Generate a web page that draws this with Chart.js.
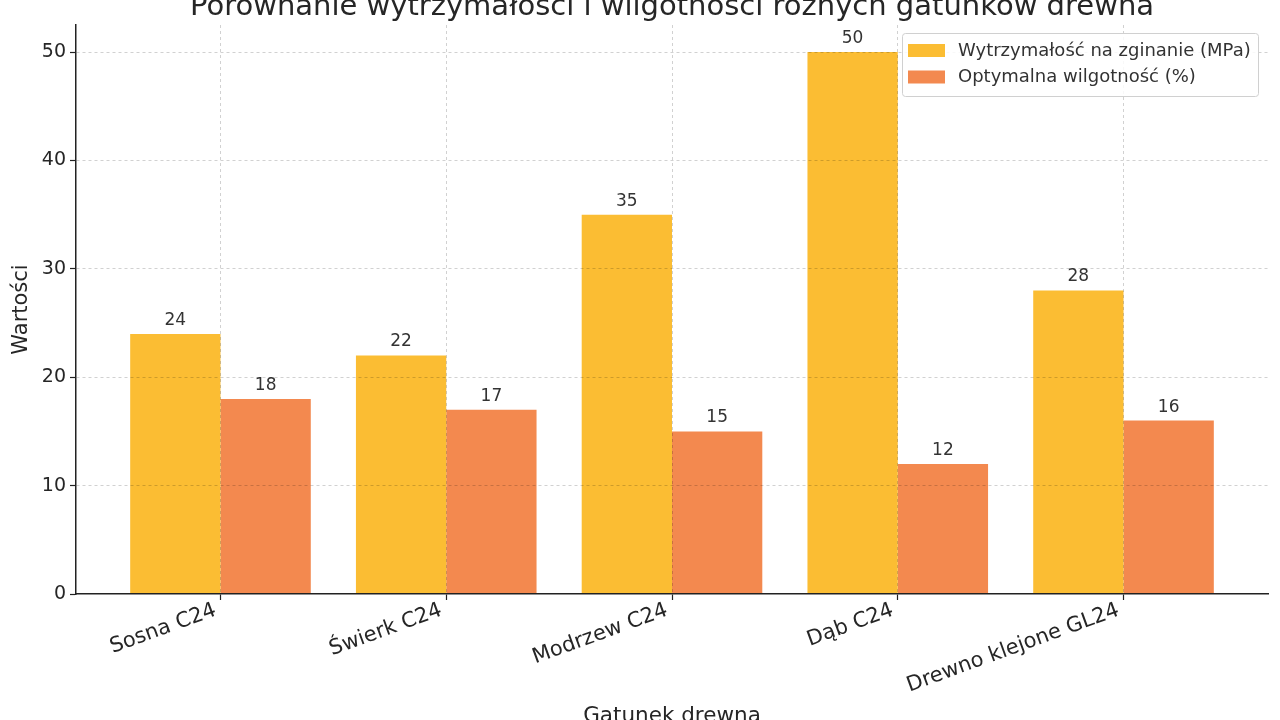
<!DOCTYPE html>
<html>
<head>
<meta charset="utf-8">
<script src="https://cdn.jsdelivr.net/npm/chart.js@4"></script>
<style>
  html, body { margin: 0; padding: 0; background: #fff; }
  canvas { display: block; }
</style>
</head>
<body>
<canvas id="woodChart" width="1280" height="720"></canvas>
<script>
const categories = ['Sosna C24', 'Świerk C24', 'Modrzew C24', 'Dąb C24', 'Drewno klejone GL24'];
const strength = [24, 22, 35, 50, 28];
const moisture = [18, 17, 15, 12, 16];
const seriesNames = ['Wytrzymałość na zginanie (MPa)', 'Optymalna wilgotność (%)'];
const yTicks = [0, 10, 20, 30, 40, 50];

const FONT = "'DejaVu Sans', sans-serif";
const TEXT = '#262626';

// value labels above each bar
const barLabels = {
  id: 'barLabels',
  afterDatasetsDraw(chart) {
    const ctx = chart.ctx;
    ctx.save();
    ctx.font = '17px ' + FONT;
    ctx.fillStyle = '#333';
    ctx.textAlign = 'center';
    ctx.textBaseline = 'bottom';
    chart.data.datasets.forEach((ds, i) => {
      chart.getDatasetMeta(i).data.forEach((bar, j) => {
        ctx.fillText(ds.data[j].y, bar.x, bar.y - 5);
      });
    });
    ctx.restore();
  }
};

// title and x title sit partly outside the canvas, so draw them by hand
const outerText = {
  id: 'outerText',
  afterDraw(chart) {
    const ctx = chart.ctx;
    const a = chart.chartArea;
    ctx.save();
    ctx.fillStyle = TEXT;
    ctx.textAlign = 'center';
    ctx.textBaseline = 'alphabetic';
    ctx.font = '29px ' + FONT;
    ctx.fillText('Porównanie wytrzymałości i wilgotności różnych gatunków drewna', (a.left + a.right) / 2, 15);
    ctx.font = '21.5px ' + FONT;
    ctx.fillText('Gatunek drewna', (a.left + a.right) / 2, 722);
    ctx.restore();
  }
};

// matplotlib-style legend box in the upper right corner
const boxLegend = {
  id: 'boxLegend',
  afterDraw(chart) {
    const ctx = chart.ctx;
    const a = chart.chartArea;
    const w = 356, h = 63;
    const x = a.right - 10 - w, y = 33;
    ctx.save();
    ctx.fillStyle = 'rgba(255,255,255,0.85)';
    ctx.strokeStyle = '#d0d0d0';
    ctx.lineWidth = 1;
    ctx.beginPath();
    ctx.roundRect(x + 0.5, y + 0.5, w, h, 3);
    ctx.fill();
    ctx.stroke();
    ctx.font = '18px ' + FONT;
    ctx.textBaseline = 'middle';
    chart.data.datasets.forEach((ds, i) => {
      const cy = y + 17 + i * 26.5;
      ctx.fillStyle = ds.backgroundColor;
      ctx.fillRect(x + 6, cy - 6, 37, 13);
      ctx.fillStyle = '#333';
      ctx.fillText(ds.label, x + 56, cy + 1);
    });
    ctx.restore();
  }
};

const gridColor = 'rgba(0,0,0,0.18)';

new Chart(document.getElementById('woodChart'), {
  type: 'bar',
  data: {
    datasets: [
      {
        label: seriesNames[0],
        data: strength.map((v, i) => ({ x: i, y: v })),
        backgroundColor: '#FBBD33'
      },
      {
        label: seriesNames[1],
        data: moisture.map((v, i) => ({ x: i, y: v })),
        backgroundColor: '#F3894F'
      }
    ]
  },
  options: {
    responsive: false,
    animation: false,
    devicePixelRatio: 1,
    categoryPercentage: 0.8,
    barPercentage: 1.0,
    layout: { padding: { top: 25, right: 12, left: 0, bottom: 0 } },
    plugins: {
      legend: { display: false },
      title: { display: false },
      tooltip: { enabled: false }
    },
    scales: {
      x: {
        type: 'linear',
        min: -0.64,
        max: 4.64,
        offset: false,
        afterBuildTicks(scale) {
          scale.ticks = categories.map((_, i) => ({ value: i }));
        },
        afterFit(scale) { scale.height = 126; },
        ticks: {
          autoSkip: false,
          minRotation: 20,
          maxRotation: 20,
          padding: -2,
          labelOffset: -5,
          color: TEXT,
          font: { family: FONT, size: 21 },
          callback: (v) => categories[v]
        },
        grid: {
          z: 1,
          offset: false,
          color: gridColor,
          lineWidth: 1,
          tickLength: 6,
          tickColor: '#222',
          tickWidth: 1.2
        },
        border: { display: true, z: 1, color: '#222', width: 1.5, dash: [3, 3] }
      },
      y: {
        min: 0,
        max: 52.5,
        afterBuildTicks(scale) {
          scale.ticks = yTicks.map(v => ({ value: v }));
        },
        afterFit(scale) { scale.width = 76; },
        ticks: {
          padding: 4,
          color: TEXT,
          font: { family: FONT, size: 19 }
        },
        grid: {
          z: 1,
          color: (c) => (c.tick && c.tick.value === 0 ? 'rgba(0,0,0,0)' : gridColor),
          lineWidth: 1,
          tickLength: 6,
          tickColor: '#222',
          tickWidth: 1.2
        },
        border: { display: true, z: 1, color: '#222', width: 1.5, dash: [3, 3] },
        title: {
          display: true,
          text: 'Wartości',
          color: TEXT,
          font: { family: FONT, size: 21 },
          padding: { top: 9, bottom: 0 }
        }
      }
    }
  },
  plugins: [barLabels, outerText, boxLegend]
});
</script>
</body>
</html>
